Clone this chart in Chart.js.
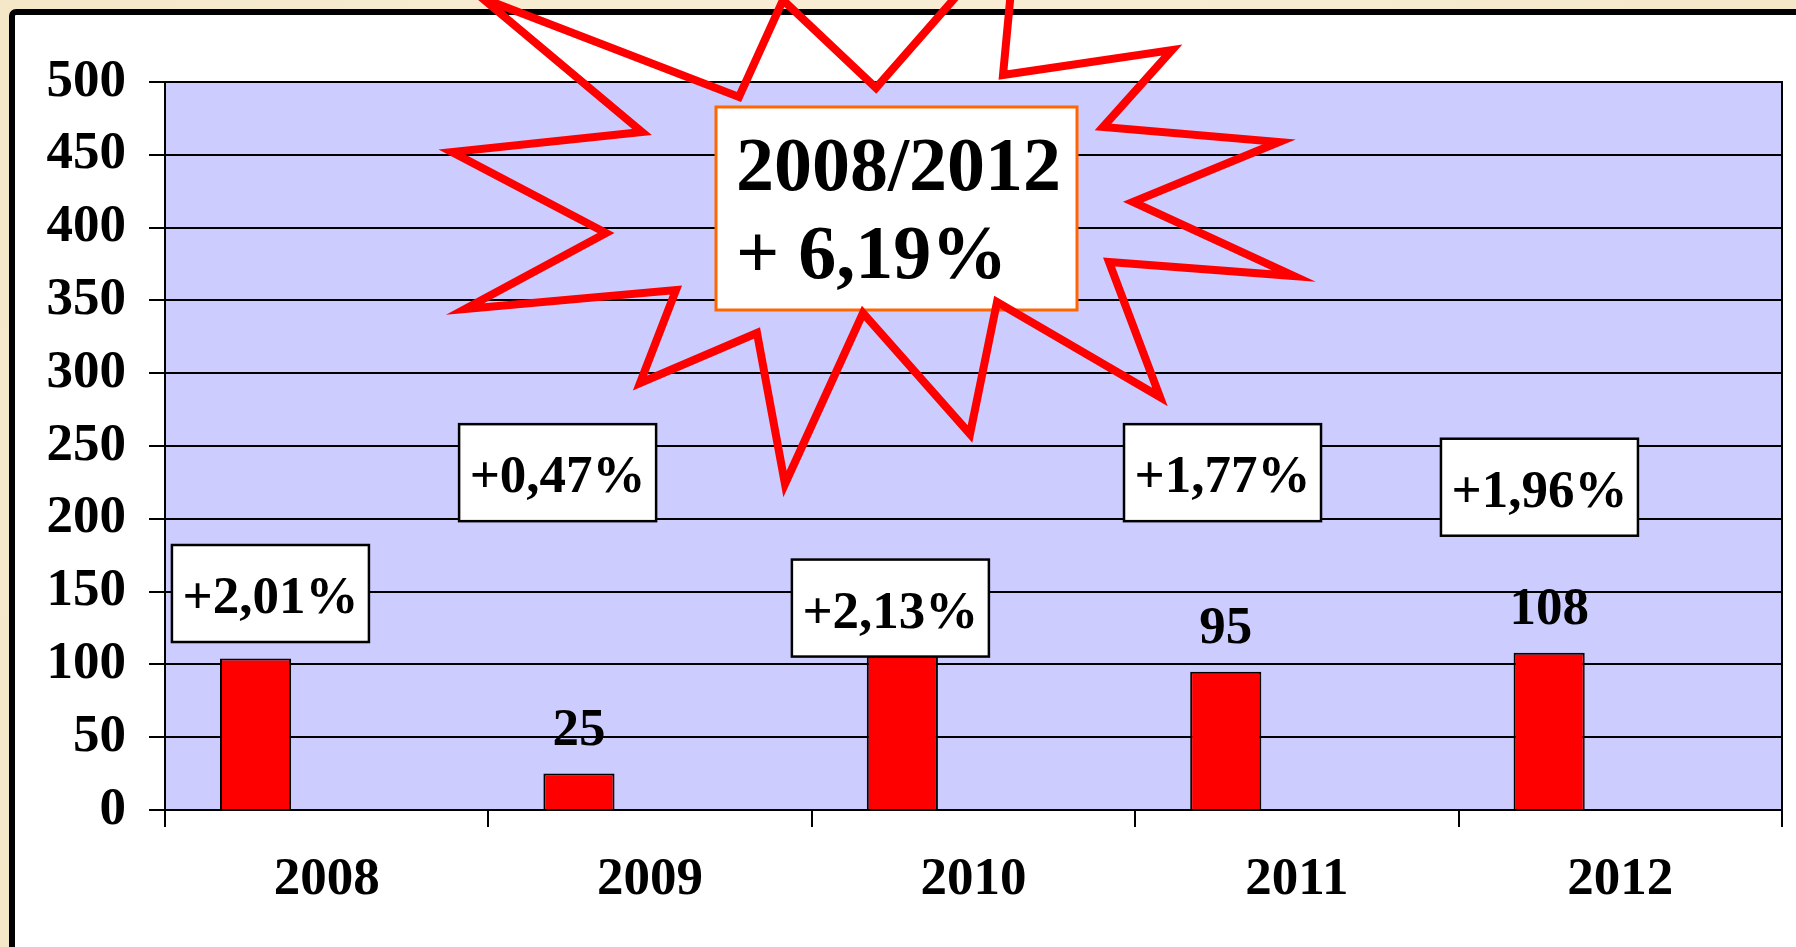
<!DOCTYPE html>
<html>
<head>
<meta charset="utf-8">
<script src="https://cdn.jsdelivr.net/npm/chart.js@4"></script>
<style>
  html, body { margin: 0; padding: 0; background: #F8EDD4; overflow: hidden; }
  #wrap { position: relative; width: 1796px; height: 947px; }
  canvas { display: block; }
</style>
</head>
<body>
<div id="wrap"><canvas id="c" width="1796" height="947"></canvas></div>
<script>
// ---- data ----
const years = ['2008', '2009', '2010', '2011', '2012'];
const values = [104, 25, 106, 95, 108];
const changeLabels = ['+2,01%', '+0,47%', '+2,13%', '+1,77%', '+1,96%'];
const totalLabel = ['2008/2012', '+ 6,19%'];
const yMin = 0, yMax = 500, yStep = 50;

// ---- layout of annotations (not data) ----
// percent boxes: x offset from category center (fraction of category width), top edge as y value
const boxAnchors = [
  { dx: -0.174, top: 182 },
  { dx: -0.286, top: 265 },
  { dx: -0.257, top: 172 },
  { dx: -0.230, top: 265 },
  { dx: -0.250, top: 255 }
];
const boxW = 197, boxH = 97;
const titleBox = { x: 716, y: 107, w: 361, h: 203 };
const starPts = [
  [482,-2],[739,97],[783,0],[876,88],[1017,-73],[1003,75],[1172,50],[1103,127],
  [1279,142],[1133,202],[1294,276],[1109,262],[1160,397],[997,302],[970,434],[863,313],
  [785,484],[757,333],[640,383],[676,290],[465,309],[606,233],[452,152],[642,132]
];

const FONT = "'Liberation Serif', 'Times New Roman', serif";

const decor = {
  id: 'decor',
  beforeDraw(chart) {
    const ctx = chart.ctx, a = chart.chartArea;
    ctx.save();
    // parchment background
    const g = ctx.createRadialGradient(900, 470, 100, 900, 470, 1100);
    g.addColorStop(0, '#FAF1DC');
    g.addColorStop(1, '#F4E6C6');
    ctx.fillStyle = g;
    ctx.fillRect(0, 0, chart.width, chart.height);
    // white framed panel
    ctx.fillStyle = '#FFFFFF';
    ctx.fillRect(12, 12, chart.width + 20, chart.height + 20);
    ctx.strokeStyle = '#000000';
    ctx.lineWidth = 6;
    ctx.beginPath();
    ctx.roundRect(12, 12, chart.width + 20, chart.height + 20, 4);
    ctx.stroke();
    // plot area fill
    ctx.fillStyle = '#CCCCFF';
    ctx.fillRect(a.left, a.top, a.right - a.left, a.bottom - a.top);
    ctx.restore();
  },
  afterDatasetsDraw(chart) {
    const ctx = chart.ctx, a = chart.chartArea;
    const xs = chart.scales.x, ys = chart.scales.y;
    ctx.save();
    // plot right & top border
    ctx.strokeStyle = '#000000';
    ctx.lineWidth = 2;
    ctx.beginPath();
    ctx.moveTo(a.left, a.top);
    ctx.lineTo(a.right, a.top);
    ctx.lineTo(a.right, a.bottom);
    ctx.stroke();

    // value labels above bars
    const meta = chart.getDatasetMeta(0);
    ctx.fillStyle = '#000000';
    ctx.font = 'bold 53px ' + FONT;
    ctx.textAlign = 'center';
    ctx.textBaseline = 'alphabetic';
    meta.data.forEach((bar, i) => {
      ctx.fillText(String(values[i]), bar.x, bar.y - 29);
    });

    // percent change boxes
    const catW = (xs.right - xs.left) / years.length;
    changeLabels.forEach((lbl, i) => {
      const cx = xs.getPixelForValue(i) + boxAnchors[i].dx * catW;
      const top = ys.getPixelForValue(boxAnchors[i].top);
      const left = cx - boxW / 2;
      ctx.fillStyle = '#FFFFFF';
      ctx.fillRect(left, top, boxW, boxH);
      ctx.strokeStyle = '#000000';
      ctx.lineWidth = 2.5;
      ctx.strokeRect(left, top, boxW, boxH);
      ctx.fillStyle = '#000000';
      ctx.font = 'bold 53px ' + FONT;
      ctx.textAlign = 'center';
      ctx.fillText(lbl, cx, top + 68);
    });

    // title box
    ctx.fillStyle = '#FFFFFF';
    ctx.fillRect(titleBox.x, titleBox.y, titleBox.w, titleBox.h);
    ctx.strokeStyle = '#FF6600';
    ctx.lineWidth = 3;
    ctx.strokeRect(titleBox.x, titleBox.y, titleBox.w, titleBox.h);
    ctx.fillStyle = '#000000';
    ctx.font = 'bold 76px ' + FONT;
    ctx.textAlign = 'left';
    ctx.fillText(totalLabel[0], titleBox.x + 20, titleBox.y + 83);
    ctx.fillText(totalLabel[1], titleBox.x + 20, titleBox.y + 171);

    // starburst outline
    ctx.strokeStyle = '#FF0000';
    ctx.lineWidth = 8;
    ctx.lineJoin = 'miter';
    ctx.miterLimit = 20;
    ctx.beginPath();
    starPts.forEach((p, i) => i ? ctx.lineTo(p[0], p[1]) : ctx.moveTo(p[0], p[1]));
    ctx.closePath();
    ctx.stroke();
    ctx.restore();
  }
};

new Chart(document.getElementById('c'), {
  type: 'bar',
  data: {
    labels: years,
    datasets: [
      { label: 'Valore', data: values, backgroundColor: '#FF0000', borderColor: '#000000', borderWidth: 2 },
      { label: 'vuoto1', data: years.map(() => null) },
      { label: 'vuoto2', data: years.map(() => null) }
    ]
  },
  options: {
    responsive: false,
    animation: false,
    devicePixelRatio: 1,
    categoryPercentage: 0.66,
    barPercentage: 1.0,
    layout: { padding: { top: 82, right: 14, bottom: 0, left: 0 } },
    plugins: { legend: { display: false }, tooltip: { enabled: false }, title: { display: false } },
    scales: {
      x: {
        grid: { display: true, drawOnChartArea: false, drawTicks: true, tickLength: 17, color: '#000000', lineWidth: 2, offset: true },
        border: { display: true, color: '#000000', width: 2 },
        ticks: { color: '#000000', font: { family: FONT, size: 53, weight: 'bold' }, padding: 22, maxRotation: 0 },
        afterFit(s) { s.height = 137; }
      },
      y: {
        min: yMin, max: yMax,
        grid: { color: '#000000', lineWidth: 2, tickLength: 16, drawTicks: true },
        border: { display: true, color: '#000000', width: 2 },
        ticks: { stepSize: yStep, color: '#000000', font: { family: FONT, size: 53, weight: 'bold' }, padding: 23 },
        afterFit(s) { s.width = 165; }
      }
    }
  },
  plugins: [decor]
});
</script>
</body>
</html>
